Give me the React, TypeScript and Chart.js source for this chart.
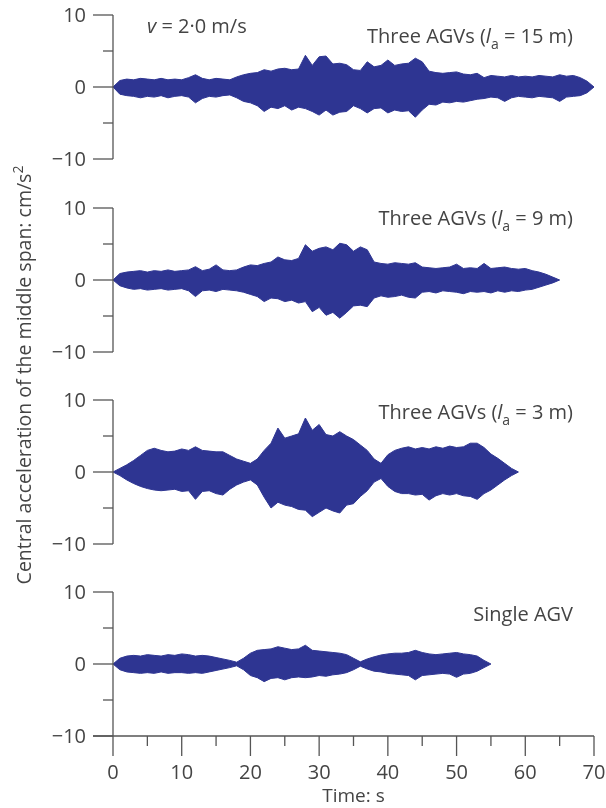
import React, { useEffect, useRef } from 'react';
import { Chart, registerables } from 'chart.js';

Chart.register(...registerables);

// ---------------- data ----------------
const X_MIN = 0;
const X_MAX = 70;
const X_MAJOR = [0, 10, 20, 30, 40, 50, 60, 70];
const X_MINOR = [5, 15, 25, 35, 45, 55, 65];
const X_TICK_LABELS = ['0', '10', '20', '30', '40', '50', '60', '70'];
const Y_MIN = -10;
const Y_MAX = 10;
const Y_MAJOR = [-10, 0, 10];
const Y_MINOR = [-5, 5];
const Y_TICK_LABELS = ['\u221210', '0', '10'];

// sample times (s)
const TIME = [
  0, 1, 2, 3, 4, 5, 6, 7, 8, 9, 10, 11, 12, 13, 14, 15, 16, 17, 18, 19,
  20, 21, 22, 23, 24, 25, 26, 27, 28, 29, 30, 31, 32, 33, 34, 35, 36, 37, 38, 39,
  40, 41, 42, 43, 44, 45, 46, 47, 48, 49, 50, 51, 52, 53, 54, 55, 56, 57, 58, 59,
  60, 61, 62, 63, 64, 65, 66, 67, 68, 69, 70,
];

// Three AGVs, la = 15 m : peak (upper) and trough (lower) per second, cm/s²
const upper15 = [
  0, 0.9, 1.1, 1.0, 1.2, 1.1, 1.0, 1.2, 1.0, 1.1, 1.0, 1.3, 1.7, 1.2, 1.0, 1.2, 1.1, 1.0, 1.4, 1.7,
  1.9, 2.0, 2.4, 2.2, 2.5, 2.6, 2.4, 2.5, 4.4, 3.0, 4.2, 4.3, 3.2, 3.3, 3.1, 2.4, 2.3, 3.5, 2.8, 3.0,
  3.75, 3.0, 3.2, 3.3, 4.0, 3.5, 2.2, 2.0, 1.9, 2.0, 2.1, 1.8, 1.7, 1.9, 1.3, 1.6, 1.5, 1.4, 1.6, 1.4,
  1.5, 1.4, 1.6, 1.5, 1.4, 1.7, 1.5, 1.6, 1.3, 0.8, 0,
];
const lower15 = [
  0, -1.0, -1.2, -1.3, -1.5, -1.3, -1.4, -1.2, -1.5, -1.3, -1.2, -1.4, -2.2, -1.6, -1.3, -1.4, -1.2, -1.1, -1.5, -2.0,
  -2.2, -2.6, -3.4, -2.8, -3.0, -2.6, -3.2, -2.8, -3.0, -3.4, -3.9, -3.2, -3.9, -3.5, -3.4, -2.6, -3.0, -3.6, -3.0, -2.9,
  -3.6, -3.2, -3.4, -3.3, -4.2, -3.2, -2.4, -2.5, -2.1, -2.2, -2.0, -2.1, -1.9, -1.7, -1.6, -1.4, -1.5, -2.0, -1.5, -1.3,
  -1.4, -1.5, -1.3, -1.4, -1.5, -2.0, -1.4, -1.3, -1.2, -0.8, 0,
];

// Three AGVs, la = 9 m
const upper9 = [
  0, 0.9, 1.1, 1.2, 1.3, 1.1, 1.3, 1.2, 1.4, 1.2, 1.3, 1.4, 1.85, 1.3, 1.5, 2.1, 1.4, 1.3, 1.4, 1.8,
  2.1, 2.0, 2.3, 2.5, 3.2, 2.8, 2.7, 3.0, 4.9, 4.0, 4.4, 4.6, 4.2, 5.1, 4.9, 4.0, 4.6, 4.2, 2.5, 2.3,
  2.2, 2.4, 2.3, 2.2, 2.4, 1.8, 1.7, 1.6, 1.7, 1.8, 2.2, 1.6, 1.7, 1.6, 2.3, 1.6, 1.7, 1.8, 1.6, 1.5,
  1.6, 1.3, 1.1, 0.8, 0.4, 0,
];
const lower9 = [
  0, -0.8, -1.1, -1.3, -1.2, -1.4, -1.3, -1.2, -1.4, -1.3, -1.2, -1.5, -2.3, -1.5, -1.4, -1.6, -1.3, -1.4, -1.5, -1.7,
  -2.0, -2.3, -3.0, -2.5, -2.6, -3.0, -2.8, -3.2, -3.0, -4.4, -3.8, -4.9, -4.5, -5.3, -4.5, -3.6, -3.5, -3.7, -2.5, -2.2,
  -2.4, -2.3, -2.1, -2.4, -2.5, -1.7, -1.6, -1.8, -1.5, -1.6, -1.7, -1.9, -1.6, -1.7, -1.6, -1.8, -1.5, -1.7, -1.5, -1.6,
  -1.4, -1.3, -1.0, -0.7, -0.4, 0,
];

// Three AGVs, la = 3 m
const upper3 = [
  0, 0.5, 1.0, 1.6, 2.3, 3.0, 3.3, 3.0, 2.8, 2.9, 3.2, 3.0, 3.5, 3.0, 2.9, 2.8, 2.8, 2.3, 1.8, 1.5,
  1.2, 1.8, 3.0, 4.0, 6.1, 4.7, 5.0, 5.3, 7.5, 5.8, 6.6, 5.2, 5.0, 5.6, 5.0, 4.5, 3.75, 3.0, 1.8, 1.2,
  2.4, 3.0, 3.3, 3.5, 3.2, 3.4, 3.2, 3.5, 3.3, 3.6, 3.4, 3.5, 4.0, 4.0, 3.4, 2.5, 1.9, 1.2, 0.5, 0,
];
const lower3 = [
  0, -0.5, -1.1, -1.6, -2.0, -2.3, -2.5, -2.6, -2.5, -2.4, -2.7, -2.6, -3.8, -2.7, -2.6, -3.0, -3.2, -2.4, -1.8, -1.4,
  -1.1, -1.8, -3.5, -5.0, -4.2, -4.6, -4.8, -5.2, -5.3, -6.2, -5.6, -5.0, -5.4, -5.7, -4.6, -4.4, -3.4, -2.6, -1.4, -0.9,
  -2.0, -2.7, -3.0, -3.0, -3.2, -3.1, -3.9, -3.3, -3.0, -3.2, -3.0, -3.3, -3.4, -3.8, -3.0, -2.5, -1.8, -1.1, -0.5, 0,
];

// Single AGV
const upper1 = [
  0, 0.8, 1.1, 1.2, 1.1, 1.3, 1.2, 1.1, 1.3, 1.2, 1.4, 1.3, 1.1, 1.2, 1.1, 0.9, 0.7, 0.5, 0.25, 0.8,
  1.5, 1.9, 2.0, 2.1, 2.4, 2.2, 2.0, 2.1, 2.6, 1.9, 1.8, 1.7, 1.6, 1.5, 1.3, 0.8, 0.3, 0.7, 1.0, 1.25,
  1.4, 1.5, 1.5, 1.6, 1.9, 1.6, 1.4, 1.3, 1.4, 1.5, 1.6, 1.4, 1.3, 1.1, 0.5, 0,
];
const lower1 = [
  0, -0.8, -1.1, -1.2, -1.3, -1.2, -1.3, -1.1, -1.3, -1.2, -1.2, -1.3, -1.2, -1.3, -1.1, -0.9, -0.7, -0.5, -0.25, -0.8,
  -1.6, -1.9, -2.45, -2.0, -1.9, -2.2, -1.9, -1.8, -1.9, -1.8, -1.6, -1.7, -1.5, -1.4, -1.2, -0.8, -0.3, -0.7, -1.0, -1.1,
  -1.3, -1.4, -1.5, -1.6, -2.2, -1.6, -1.5, -1.4, -1.3, -1.4, -1.85, -1.4, -1.3, -1.0, -0.5, 0,
];

// ---------------- style ----------------
const SIGNAL = '#2e3592';
const AXIS = '#555555';
const TEXT = '#444444';
const FONT = '"Open Sans", "Noto Sans", sans-serif';
const W = 606;
const H = 808;

type Seg = { text: string; italic?: boolean; sub?: boolean; sup?: boolean };

const PANELS = [
  {
    upper: upper15, lower: lower15, top: 15, bottom: 159, labelBaseline: 43,
    label: [{ text: 'Three AGVs (' }, { text: 'l', italic: true }, { text: 'a', sub: true }, { text: ' = 15 m)' }] as Seg[],
    speed: true,
  },
  {
    upper: upper9, lower: lower9, top: 208, bottom: 352, labelBaseline: 225,
    label: [{ text: 'Three AGVs (' }, { text: 'l', italic: true }, { text: 'a', sub: true }, { text: ' = 9 m)' }] as Seg[],
  },
  {
    upper: upper3, lower: lower3, top: 400, bottom: 544, labelBaseline: 419,
    label: [{ text: 'Three AGVs (' }, { text: 'l', italic: true }, { text: 'a', sub: true }, { text: ' = 3 m)' }] as Seg[],
  },
  {
    upper: upper1, lower: lower1, top: 592, bottom: 736, labelBaseline: 621,
    label: [{ text: 'Single AGV' }] as Seg[],
    last: true,
  },
];

function drawRich(ctx: CanvasRenderingContext2D, segs: Seg[], x: number, y: number, align: 'left' | 'right' | 'center', size: number) {
  const fontFor = (s: Seg) => `${s.italic ? 'italic ' : ''}${s.sub || s.sup ? Math.round(size * 0.72) : size}px ${FONT}`;
  const widths = segs.map((s) => {
    ctx.font = fontFor(s);
    return ctx.measureText(s.text).width;
  });
  const total = widths.reduce((a, b) => a + b, 0);
  let cx = align === 'left' ? x : align === 'right' ? x - total : x - total / 2;
  ctx.textAlign = 'left';
  ctx.textBaseline = 'alphabetic';
  segs.forEach((s, i) => {
    ctx.font = fontFor(s);
    const dy = s.sub ? size * 0.3 : s.sup ? -size * 0.42 : 0;
    ctx.fillText(s.text, cx, y + dy);
    cx += widths[i];
  });
}

function makePlugin(panel: any) {
  return {
    id: 'customAxes',
    afterDraw(chart: any) {
      const { ctx, scales } = chart;
      const x = scales.x;
      const y = scales.y;
      const x0 = x.getPixelForValue(X_MIN);
      ctx.save();
      ctx.strokeStyle = AXIS;
      ctx.lineWidth = 1.3;
      // y axis line
      ctx.beginPath();
      ctx.moveTo(x0, y.getPixelForValue(Y_MAX));
      ctx.lineTo(x0, y.getPixelForValue(Y_MIN));
      ctx.stroke();
      // y major ticks + labels
      ctx.fillStyle = TEXT;
      ctx.font = `20px ${FONT}`;
      Y_MAJOR.forEach((v, i) => {
        const py = y.getPixelForValue(v);
        ctx.beginPath();
        ctx.moveTo(x0 - 20, py);
        ctx.lineTo(x0, py);
        ctx.stroke();
        ctx.textAlign = 'right';
        ctx.textBaseline = 'middle';
        ctx.font = `20px ${FONT}`;
        ctx.fillText(Y_TICK_LABELS[i], x0 - 27, py + 1);
      });
      Y_MINOR.forEach((v) => {
        const py = y.getPixelForValue(v);
        ctx.beginPath();
        ctx.moveTo(x0 - 10, py);
        ctx.lineTo(x0, py);
        ctx.stroke();
      });
      // panel label (right)
      drawRich(ctx, panel.label, x.getPixelForValue(X_MAX) - 21, panel.labelBaseline, 'right', 20);
      if (panel.speed) {
        drawRich(ctx, [{ text: 'v', italic: true }, { text: ' = 2\u00b70 m/s' }], 147, 33, 'left', 20);
        // y axis title
        ctx.save();
        ctx.translate(31, 375);
        ctx.rotate(-Math.PI / 2);
        drawRich(ctx, [{ text: 'Central acceleration of the middle span: cm/s' }, { text: '2', sup: true }], 0, 0, 'center', 19.5);
        ctx.restore();
      }
      if (panel.last) {
        const yb = y.getPixelForValue(Y_MIN);
        ctx.beginPath();
        ctx.moveTo(x0 - 20, yb);
        ctx.lineTo(x.getPixelForValue(X_MAX), yb);
        ctx.stroke();
        X_MAJOR.forEach((v, i) => {
          const px = x.getPixelForValue(v);
          ctx.beginPath();
          ctx.moveTo(px, yb);
          ctx.lineTo(px, yb + 20);
          ctx.stroke();
          ctx.textAlign = 'center';
          ctx.textBaseline = 'middle';
          ctx.font = `20px ${FONT}`;
          ctx.fillText(X_TICK_LABELS[i], px, yb + 37);
        });
        X_MINOR.forEach((v) => {
          const px = x.getPixelForValue(v);
          ctx.beginPath();
          ctx.moveTo(px, yb);
          ctx.lineTo(px, yb + 10);
          ctx.stroke();
        });
        ctx.textAlign = 'center';
        ctx.textBaseline = 'middle';
        ctx.font = `19px ${FONT}`;
        ctx.fillText('Time: s', (x0 + x.getPixelForValue(X_MAX)) / 2, yb + 61);
      }
      ctx.restore();
    },
  };
}

function Panel({ panel }: { panel: any }) {
  const ref = useRef<HTMLCanvasElement | null>(null);
  useEffect(() => {
    if (!ref.current) return;
    const upperPts = panel.upper.map((v: number, i: number) => ({ x: TIME[i], y: v }));
    const lowerPts = panel.lower.map((v: number, i: number) => ({ x: TIME[i], y: v }));
    const chart = new Chart(ref.current, {
      type: 'line',
      data: {
        datasets: [
          {
            data: upperPts,
            borderColor: SIGNAL,
            backgroundColor: SIGNAL,
            borderWidth: 1,
            pointRadius: 0,
            tension: 0,
            fill: '+1',
          },
          {
            data: lowerPts,
            borderColor: SIGNAL,
            backgroundColor: SIGNAL,
            borderWidth: 1,
            pointRadius: 0,
            tension: 0,
            fill: false,
          },
        ],
      },
      options: {
        responsive: false,
        animation: false,
        events: [],
        layout: { padding: { left: 113, right: W - 594, top: panel.top, bottom: H - panel.bottom } },
        plugins: { legend: { display: false }, tooltip: { enabled: false }, title: { display: false } },
        scales: {
          x: { type: 'linear', min: X_MIN, max: X_MAX, display: false },
          y: { type: 'linear', min: Y_MIN, max: Y_MAX, display: false },
        },
      },
      plugins: [makePlugin(panel)],
    } as any);
    return () => chart.destroy();
  }, [panel]);
  return (
    <canvas
      ref={ref}
      width={W}
      height={H}
      style={{ position: 'absolute', left: 0, top: 0, width: W, height: H }}
    />
  );
}

export default function App() {
  return (
    <div style={{ position: 'absolute', left: 0, top: 0, width: W, height: H, background: '#fff' }}>
      {PANELS.map((p, i) => (
        <Panel key={i} panel={p} />
      ))}
    </div>
  );
}
